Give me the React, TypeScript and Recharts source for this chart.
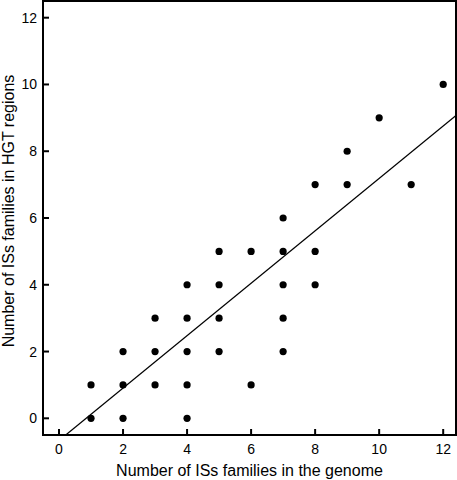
import React from 'react';
import {
  ScatterChart,
  Scatter,
  XAxis,
  YAxis,
  ReferenceArea,
  ReferenceLine,
} from 'recharts';

// number of IS families in the genome vs. in HGT regions
const genomeFamilies = [1, 1, 2, 2, 2, 3, 3, 3, 4, 4, 4, 4, 4, 5, 5, 5, 5, 6, 6, 7, 7, 7, 7, 7, 8, 8, 8, 9, 9, 10, 11, 12];
const hgtFamilies = [0, 1, 0, 1, 2, 1, 2, 3, 0, 1, 2, 3, 4, 2, 3, 4, 5, 1, 5, 2, 3, 4, 5, 6, 4, 5, 7, 7, 8, 9, 7, 10];

// fitted line, end points
const fitX = [0.21, 12.4];
const fitY = [-0.5, 9.07];

const xTicks = [0, 2, 4, 6, 8, 10, 12];
const yTicks = [0, 2, 4, 6, 8, 10, 12];
const xDomain = [-0.5, 12.4];
const yDomain = [-0.5, 12.5];

const points = genomeFamilies.map((x, i) => ({ x, y: hgtFamilies[i] }));
const fitSegment = fitX.map((x, i) => ({ x, y: fitY[i] }));

const font = '"Liberation Sans", Arial, Helvetica, sans-serif';

const Dot = (props: any) => <circle cx={props.cx} cy={props.cy} r={3.6} fill="#000" />;

const YTitle = () => (
  <text
    x={13.5}
    y={211}
    transform="rotate(-90 13.5 211)"
    textAnchor="middle"
    fontSize={16}
    fontFamily={font}
    fill="#000"
  >
    Number of ISs families in HGT regions
  </text>
);

export default function App() {
  return (
    <div style={{ position: 'absolute', left: 0, top: 0, fontFamily: font }}>
      <ScatterChart
        width={457}
        height={480}
        margin={{ top: 1, right: 1, bottom: 0, left: 0 }}
      >
        <XAxis
          type="number"
          dataKey="x"
          domain={xDomain}
          ticks={xTicks}
          allowDataOverflow
          height={45}
          axisLine={false}
          tickSize={-6}
          tickMargin={15}
          tickLine={{ stroke: '#000', strokeWidth: 2 }}
          tick={{ fill: '#000', fontSize: 14, fontFamily: font }}
          label={{
            value: 'Number of ISs families in the genome',
            position: 'insideBottom',
            offset: 4,
            fill: '#000',
            fontSize: 16,
            fontFamily: font,
          }}
        />
        <YAxis
          type="number"
          dataKey="y"
          domain={yDomain}
          ticks={yTicks}
          allowDataOverflow
          width={43}
          axisLine={false}
          tickSize={-6}
          tickMargin={12}
          tickLine={{ stroke: '#000', strokeWidth: 2 }}
          tick={{ fill: '#000', fontSize: 14, fontFamily: font }}
          label={{ content: () => <YTitle /> }}
        />
        <ReferenceArea
          x1={xDomain[0]}
          x2={xDomain[1]}
          y1={yDomain[0]}
          y2={yDomain[1]}
          fill="none"
          fillOpacity={0}
          stroke="#000"
          strokeWidth={2}
          ifOverflow="visible"
        />
        <ReferenceLine
          segment={fitSegment}
          stroke="#000"
          strokeWidth={1.2}
          ifOverflow="visible"
        />
        <Scatter data={points} shape={<Dot />} isAnimationActive={false} />
      </ScatterChart>
    </div>
  );
}
